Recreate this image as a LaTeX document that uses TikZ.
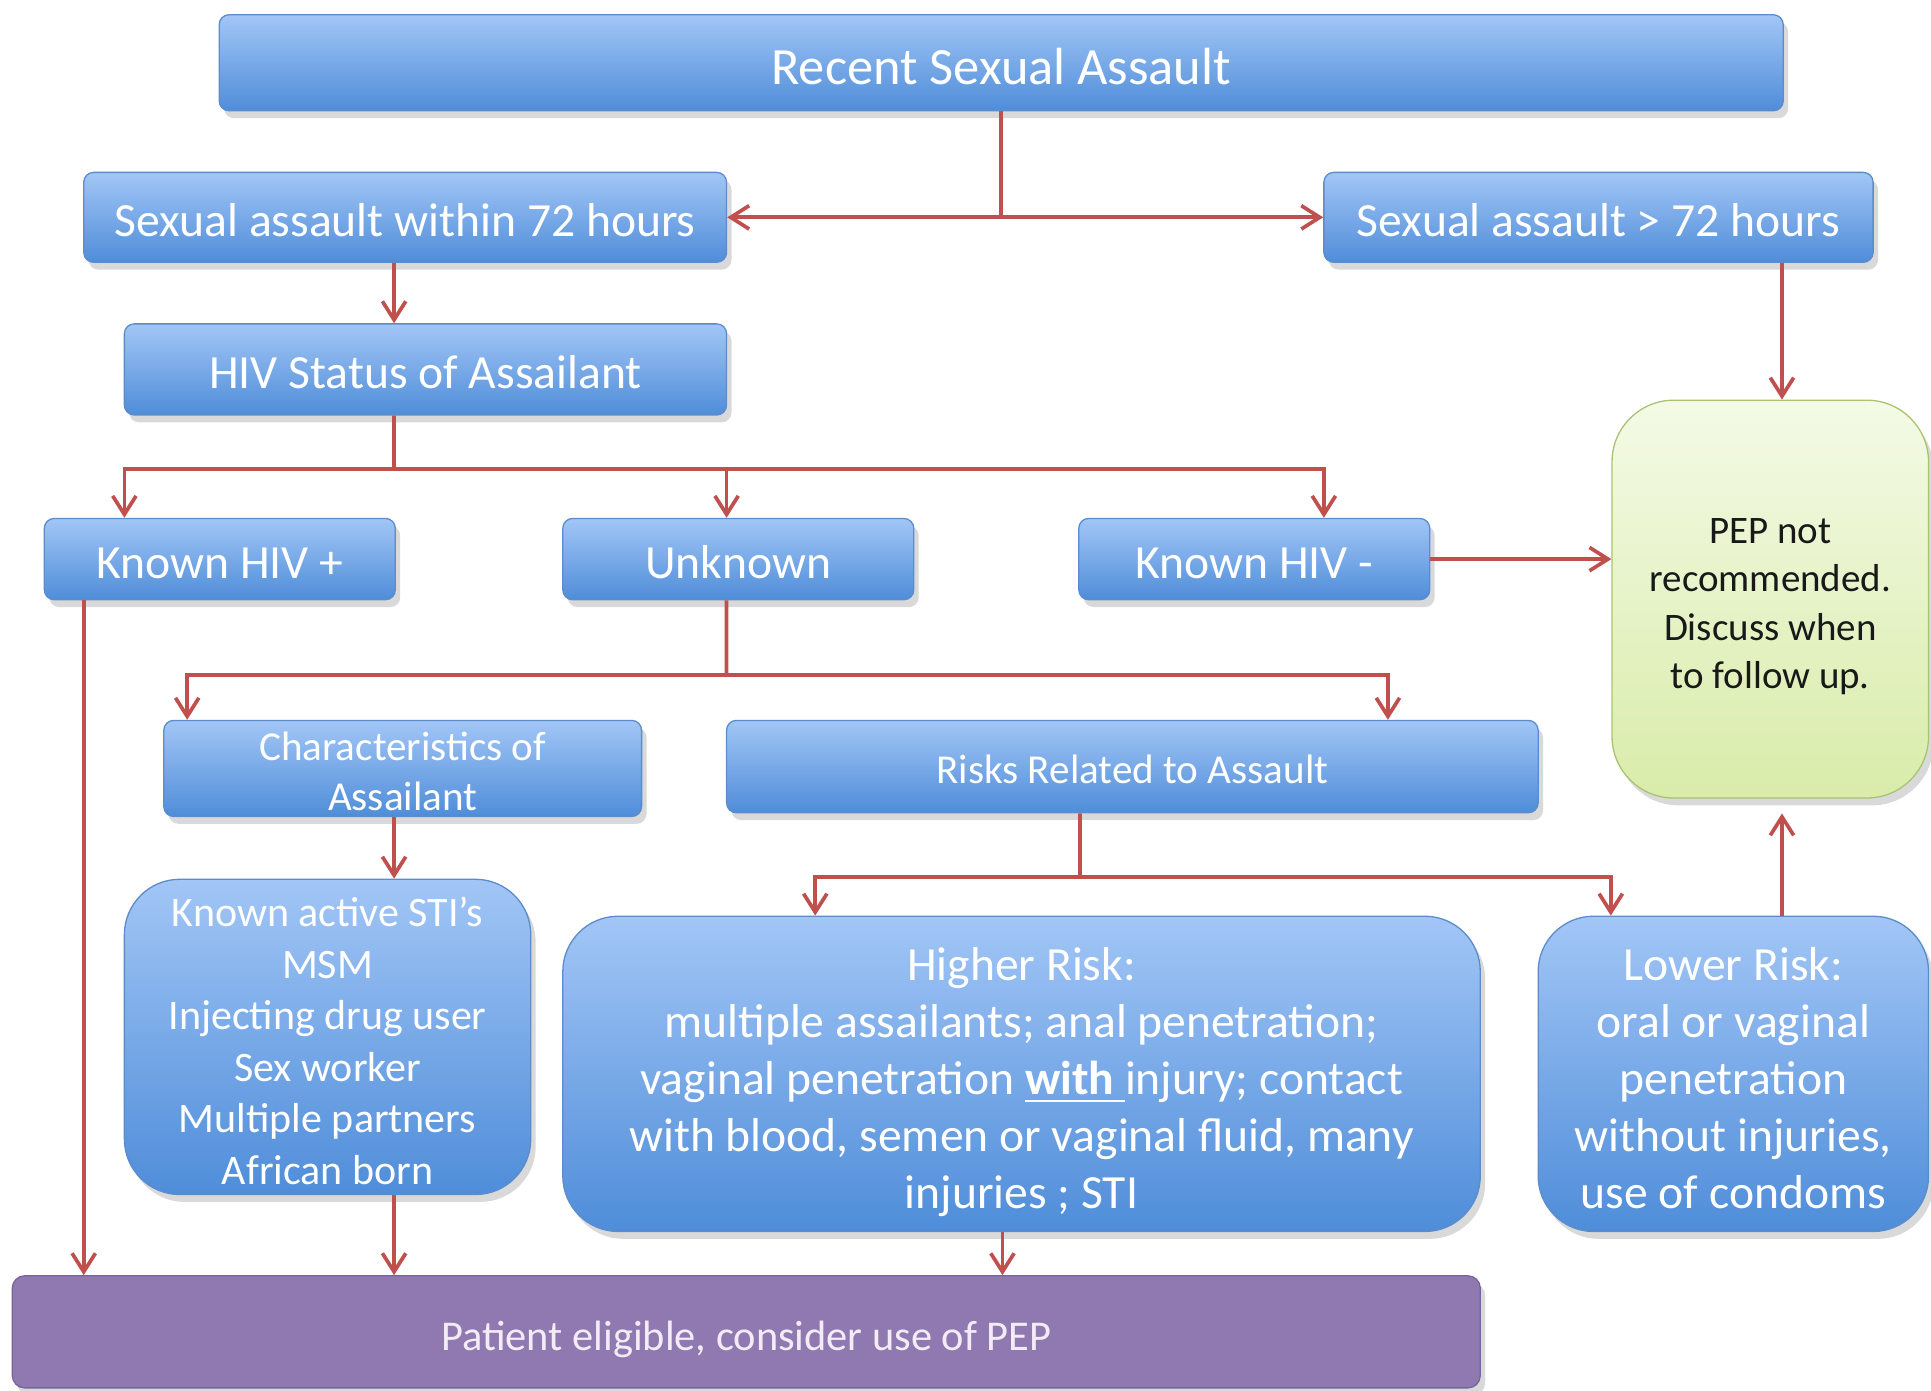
\documentclass[tikz,border=0pt]{standalone}
\usepackage{fontspec}
\setmainfont{Carlito}
\usetikzlibrary{arrows.meta,shadows}
\definecolor{linkred}{HTML}{C0504D}
\definecolor{boxtop}{HTML}{A2C6F6}
\definecolor{boxbot}{HTML}{4F8DD9}
\definecolor{boxedge}{HTML}{5C8CCB}
\definecolor{peptop}{HTML}{F4FAE6}
\definecolor{pepbot}{HTML}{D9ECAA}
\definecolor{pepedge}{HTML}{A9C470}
\definecolor{eligfill}{HTML}{9079B1}
\definecolor{eligedge}{HTML}{76649A}
\definecolor{eligtext}{HTML}{F3ECF7}

\begin{document}
\begin{tikzpicture}[x=0.1mm,y=-0.1mm]
        \tikzset{blockbox/.style={draw=boxedge,line width=0.3pt,rounded corners=0.8mm,
            top color=boxtop,bottom color=boxbot,text=white,align=flush center,inner sep=0pt,
            font=\fontsize{11}{13.2}\selectfont,text height=9pt,text depth=0pt,
            drop shadow={opacity=0.3,shadow xshift=0.4mm,shadow yshift=-0.6mm}},
          bigbox/.style={blockbox,rounded corners=4.5mm,minimum height=25.6mm},
          pepbox/.style={blockbox,rounded corners=5mm,draw=pepedge,top color=peptop,
            bottom color=pepbot,text=black!90,font=\fontsize{9}{11.2}\selectfont},
          eligbox/.style={blockbox,rounded corners=1mm,draw=eligedge,fill=eligfill,
            top color=eligfill,bottom color=eligfill,text=eligtext,font=\fontsize{9.8}{12}\selectfont},
          linkline/.style={draw=linkred,line width=0.3mm},
          link/.style={linkline,-{Straight Barb[length=1.5mm,width=1.9mm]}}}
        \useasboundingbox (0,0) rectangle (1568,1129);
        \node[blockbox,minimum width=127mm,minimum height=7.8mm,font=\fontsize{12.1}{14}\selectfont,
          text height=9.9pt] (top) at (813,51) {Recent Sexual Assault};
        \node[blockbox,minimum width=52.2mm,minimum height=7.3mm] (within) at (329,176.5)
          {Sexual assault within 72 hours};
        \node[blockbox,minimum width=44.6mm,minimum height=7.3mm] (over) at (1298,176.5)
          {Sexual assault > 72 hours};
        \node[blockbox,minimum width=48.9mm,minimum height=7.4mm] (status) at (345.5,300)
          {HIV Status of Assailant};
        \node[blockbox,minimum width=28.5mm,minimum height=6.6mm] (pos) at (178.5,454) {Known HIV +};
        \node[blockbox,minimum width=28.5mm,minimum height=6.6mm] (unk) at (599.5,454) {Unknown};
        \node[blockbox,minimum width=28.5mm,minimum height=6.6mm] (neg) at (1018.5,454) {Known HIV -};
        \node[pepbox,minimum width=25.7mm,minimum height=32.3mm,text width=24mm,
          text height=7.8pt,text depth=33.6pt] (pep) at (1437.5,486.5)
          {PEP not\\recommended.\\Discuss when\\to follow up.};
        \node[blockbox,minimum width=38.8mm,minimum height=7.8mm,font=\fontsize{9.5}{11.6}\selectfont,
          text width=36mm,text height=7.7pt,text depth=11.6pt] (charac) at (327,624)
          {Characteristics of\\Assailant};
        \node[blockbox,minimum width=65.9mm,minimum height=7.5mm,font=\fontsize{9.5}{11.6}\selectfont,
          text height=7.8pt] (risks) at (919.5,622.5) {Risks Related to Assault};
        \node[bigbox,minimum width=33mm,font=\fontsize{9.7}{11.9}\selectfont,text width=31mm,
          text height=8.7pt,text depth=59.5pt] (sti) at (266,842)
          {Known active STI’s\\MSM\\Injecting drug user\\Sex worker\\Multiple partners\\African born};
        \node[bigbox,minimum width=74.5mm,text width=72mm,text height=9.2pt,text depth=52.4pt]
          (higher) at (829.5,872)
          {Higher Risk:\\multiple assailants; anal penetration;\\vaginal penetration
           \underline{\textbf{with}~}injury; contact\\with blood, semen or vaginal fluid, many\\injuries ; STI};
        \node[bigbox,minimum width=31.7mm,text width=30mm,text height=9.2pt,text depth=52.4pt]
          (lower) at (1407.5,872)
          {Lower Risk:\\oral or vaginal\\penetration\\without injuries,\\use of condoms};
        \node[eligbox,minimum width=119.2mm,minimum height=9.1mm,text height=8.6pt] (elig) at (606,1081.5)
          {Patient eligible, consider use of PEP};
        \coordinate (hivbus) at (320,381);
        \coordinate (unkbus) at (590,548);
        \coordinate (riskbus) at (877,712);
        \draw[link] (top.south) |- (within.east);
        \draw[link] (top.south) |- (over.west);
        \draw[link] ([xshift=-0.9mm]within.south) -- ([xshift=-0.9mm]within.south |- status.north);
        \draw[link] ([xshift=0.95mm]pep.north |- over.south) -- ([xshift=0.95mm]pep.north);
        \draw[linkline] ([xshift=-2.55mm]status.south) -- (hivbus);
        \draw[link] (hivbus) -| ([xshift=-7.75mm]pos.north);
        \draw[link] (hivbus) -| ([xshift=-0.95mm]unk.north);
        \draw[link] (hivbus) -| ([xshift=5.65mm]neg.north);
        \draw[link] (neg.east) -- (neg.east -| pep.west);
        \draw[linkline] ([xshift=-0.95mm]unk.south) -- (unkbus);
        \draw[link] (unkbus) -| ([xshift=-17.5mm]charac.north);
        \draw[link] (unkbus) -| ([xshift=20.75mm]risks.north);
        \draw[link] ([xshift=-0.7mm]charac.south) -- ([xshift=-0.7mm]charac.south |- sti.north);
        \draw[linkline] ([xshift=-4.25mm]risks.south) -- (riskbus);
        \draw[link] (riskbus) -| ([xshift=-16.75mm]higher.north);
        \draw[link] (riskbus) -| ([xshift=-9.95mm]lower.north);
        \draw[link,shorten >=1.2mm] ([xshift=3.95mm]lower.north) -- ([xshift=3.95mm]lower.north |- pep.south);
        \draw[link] ([xshift=-11.05mm]pos.south) -- ([xshift=-11.05mm]pos.south |- elig.north);
        \draw[link] ([xshift=5.4mm]sti.south) -- ([xshift=5.4mm]sti.south |- elig.north);
        \draw[link] ([xshift=-1.55mm]higher.south) -- ([xshift=-1.55mm]higher.south |- elig.north);
      \end{tikzpicture}
\end{document}
